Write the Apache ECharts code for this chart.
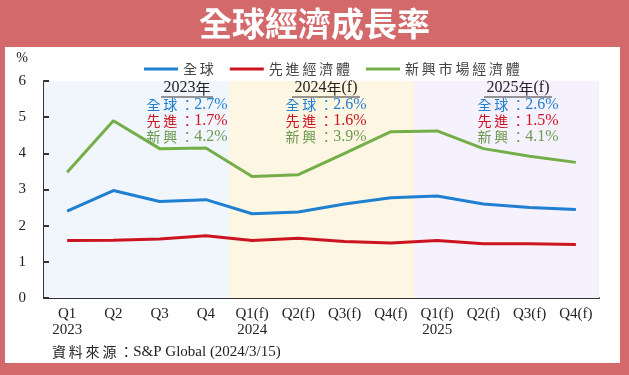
<!DOCTYPE html>
<html>
<head>
<meta charset="utf-8">
<script src="https://cdn.jsdelivr.net/npm/echarts@6/dist/echarts.min.js"></script>
<style>
    html, body { margin: 0; padding: 0; }
    #wrap { position: relative; width: 629px; height: 375px; background: #d4696b; overflow: hidden; }
    #panel { position: absolute; left: 5px; top: 47px; width: 615px; height: 316px; background: #ffffff; }
    #main { position: absolute; left: 0; top: 0; width: 629px; height: 375px; }
</style>
</head>
<body>
<div id="wrap">
    <div id="panel"></div>
    <div id="main"></div>
</div>
<script>
//季度與標籤
var quarters = ['2023Q1','2023Q2','2023Q3','2023Q4','2024Q1','2024Q2','2024Q3','2024Q4','2025Q1','2025Q2','2025Q3','2025Q4'];
var xLabels = ['Q1\n2023','Q2','Q3','Q4','Q1(f)\n2024','Q2(f)','Q3(f)','Q4(f)','Q1(f)\n2025','Q2(f)','Q3(f)','Q4(f)'];

//季度成長率 (%)
var globalGrowth   = [2.40, 2.97, 2.67, 2.72, 2.33, 2.38, 2.60, 2.77, 2.82, 2.60, 2.50, 2.45];
var advancedGrowth = [1.59, 1.60, 1.63, 1.72, 1.59, 1.65, 1.56, 1.52, 1.59, 1.50, 1.50, 1.48];
var emergingGrowth = [3.48, 4.90, 4.13, 4.15, 3.36, 3.41, 4.00, 4.60, 4.62, 4.13, 3.92, 3.75];

//年度數字
var years = ['2023年', '2024年(f)', '2025年(f)'];
var globalAnnual   = [2.7, 2.6, 2.6];
var advancedAnnual = [1.7, 1.6, 1.5];
var emergingAnnual = [4.2, 3.9, 4.1];
var yearBands = [6, 6, 6];

var yTicks = [0, 1, 2, 3, 4, 5, 6];

var cjk = '"Noto Sans CJK TC"';
var serif = '"Liberation Serif"';
var blue = '#1f7fd0', red = '#cc1420', green = '#74ae48';
var bandColors = ['#f0f6fc', '#fdf6e3', '#f6f2fd'];

//字距
function spaced(s) {
    return s.split('').join('\u2009');
}

//年度註解 (文字區塊)
var blockX = [187, 326, 518];
var headW = [52, 68, 68];
var graphics = [];
years.forEach(function (y, i) {
    var cx = blockX[i];
    graphics.push({
        type: 'text', x: cx, y: 88, z: 10,
        style: {
            text: '{n|' + y.replace(/年/, '}{c|年}{n|') + '}',
            align: 'center', verticalAlign: 'middle',
            rich: {
                n: { font: '16px ' + serif, fill: '#222' },
                c: { font: '15px ' + cjk, fill: '#222' }
            }
        }
    });
    graphics.push({
        type: 'line', z: 10,
        shape: { x1: cx - headW[i] / 2, y1: 97, x2: cx + headW[i] / 2, y2: 97 },
        style: { stroke: '#333', lineWidth: 1 }
    });
    var rows = [['全球', globalAnnual[i], blue, 105], ['先進', advancedAnnual[i], red, 121], ['新興', emergingAnnual[i], '#6f9a52', 137]];
    rows.forEach(function (r) {
        graphics.push({
            type: 'text', x: cx, y: r[3], z: 10,
            style: {
                text: '{c|' + spaced(r[0]) + '\u2009：}{n|' + r[1].toFixed(1) + '%}',
                align: 'center', verticalAlign: 'middle',
                rich: {
                    c: { font: '14px ' + cjk, fill: r[2] },
                    n: { font: '16px ' + serif, fill: r[2] }
                }
            }
        });
    });
});

// % 單位與資料來源
graphics.push({
    type: 'text', x: 22, y: 58, z: 10,
    style: { text: '%', font: '14px ' + serif, fill: '#222', align: 'center', verticalAlign: 'middle' }
});
graphics.push({
    type: 'text', x: 52, y: 352, z: 10,
    style: {
        text: '{c|' + spaced('資料來源') + '\u2009：}{n|S&P Global (2024/3/15)}',
        align: 'left', verticalAlign: 'middle',
        rich: {
            c: { font: '14px ' + cjk, fill: '#222' },
            n: { font: '15px ' + serif, fill: '#222' }
        }
    }
});

var myChart = echarts.init(document.getElementById('main'));
var option = {
    backgroundColor: 'transparent',
    animation: false,
    textStyle: { fontFamily: serif },
    title: {
        text: '全球經濟成長率',
        left: 'center',
        top: 2,
        textStyle: { color: '#ffffff', fontSize: 33, fontWeight: 'bold', fontFamily: cjk }
    },
    legend: {
        left: 139,
        top: 57,
        itemWidth: 34,
        itemHeight: 3,
        itemGap: 16,
        icon: 'rect',
        textStyle: { fontFamily: cjk, fontSize: 14, color: '#444' },
        formatter: function (name) { return spaced(name); },
        data: ['全球', '先進經濟體', '新興市場經濟體']
    },
    grid: { left: 44, right: 30, top: 81, bottom: 77 },
    xAxis: [
        {
            type: 'category',
            data: quarters,
            boundaryGap: true,
            axisLine: { lineStyle: { color: '#333', width: 2 } },
            axisTick: { inside: true, length: 5, lineStyle: { color: '#333', width: 2 } },
            axisLabel: {
                interval: 0,
                margin: 8,
                fontSize: 15,
                lineHeight: 16,
                color: '#222',
                fontFamily: serif,
                formatter: function (v, i) { return xLabels[i]; }
            }
        },
        {
            type: 'category',
            data: years,
            show: false,
            boundaryGap: true
        }
    ],
    yAxis: {
        type: 'value',
        min: yTicks[0],
        max: yTicks[yTicks.length - 1],
        interval: 1,
        axisLine: { show: true, lineStyle: { color: '#333', width: 2 } },
        axisTick: { show: true, inside: true, length: 5, lineStyle: { color: '#333', width: 2 } },
        splitLine: { show: false },
        axisLabel: { margin: 18, fontSize: 15, color: '#222', fontFamily: serif }
    },
    graphic: graphics,
    series: [
        {
            name: 'bands',
            type: 'bar',
            xAxisIndex: 1,
            barWidth: '100%',
            barCategoryGap: 0,
            silent: true,
            z: 0,
            data: yearBands.map(function (v, i) {
                return { value: v, itemStyle: { color: bandColors[i] } };
            })
        },
        {
            name: '全球', type: 'line', data: globalGrowth,
            showSymbol: false, symbol: 'none', z: 5,
            lineStyle: { color: blue, width: 3 }, itemStyle: { color: blue }
        },
        {
            name: '先進經濟體', type: 'line', data: advancedGrowth,
            showSymbol: false, symbol: 'none', z: 5,
            lineStyle: { color: red, width: 3 }, itemStyle: { color: red }
        },
        {
            name: '新興市場經濟體', type: 'line', data: emergingGrowth,
            showSymbol: false, symbol: 'none', z: 5,
            lineStyle: { color: green, width: 3 }, itemStyle: { color: green }
        }
    ]
};
myChart.setOption(option, true);
window.onresize = function () {
    myChart.resize();
};
</script>
</body>
</html>
